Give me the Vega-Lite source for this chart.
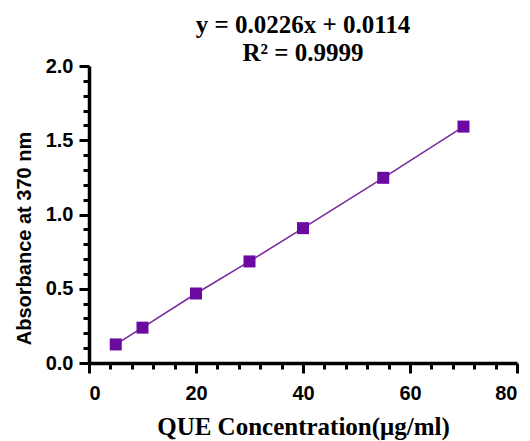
{
  "$schema": "https://vega.github.io/schema/vega-lite/v6.json",
  "width": 428,
  "height": 297,
  "autosize": "none",
  "padding": {"left": 89, "top": 66, "right": 13, "bottom": 78},
  "background": "white",
  "title": {
    "text": ["y = 0.0226x + 0.0114", "R² = 0.9999"],
    "font": "Liberation Serif",
    "fontSize": 25,
    "fontWeight": "bold",
    "color": "black",
    "anchor": "middle",
    "lineHeight": 28,
    "offset": -10
  },
  "config": {
    "view": {"stroke": null},
    "axis": {
      "grid": false,
      "domainColor": "black",
      "tickColor": "black",
      "labelColor": "black",
      "titleColor": "black",
      "domainWidth": 3.5,
      "tickWidth": 3,
      "labelFont": "Liberation Sans",
      "labelFontWeight": "bold",
      "labelFontSize": 20
    }
  },
  "data": {
    "values": [
      {"conc": 5, "abs": 0.125},
      {"conc": 10, "abs": 0.238},
      {"conc": 20, "abs": 0.468},
      {"conc": 30, "abs": 0.684},
      {"conc": 40, "abs": 0.908},
      {"conc": 55, "abs": 1.247},
      {"conc": 70, "abs": 1.592}
    ]
  },
  "layer": [
    {
      "mark": {"type": "line", "color": "#7a2a9e", "strokeWidth": 1.6},
      "encoding": {
        "x": {
          "field": "conc", "type": "quantitative",
          "scale": {"domain": [0, 80], "nice": false, "zero": true},
          "axis": {
            "values": [0, 20, 40, 60, 80],
            "tickSize": 10,
            "tickWidth": 3,
            "domainWidth": 3.5,
            "labelPadding": 10,
            "title": "QUE Concentration(μg/ml)",
            "titleFont": "Liberation Serif",
            "titleFontSize": 25,
            "titleFontWeight": "bold",
            "titlePadding": 11
          }
        },
        "y": {
          "field": "abs", "type": "quantitative",
          "scale": {"domain": [0, 2], "nice": false},
          "axis": {
            "values": [0, 0.5, 1, 1.5, 2],
            "format": ".1f",
            "tickSize": 10,
            "tickWidth": 3,
            "domainWidth": 3.5,
            "labelPadding": 6,
            "title": "Absorbance at 370 nm",
            "titleFont": "Liberation Sans",
            "titleFontSize": 20,
            "titleFontWeight": "bold",
            "titlePadding": 11,
            "titleY": 172
          }
        }
      }
    },
    {
      "mark": {"type": "square", "color": "#6a0aa0", "opacity": 1, "size": 144, "filled": true},
      "encoding": {
        "x": {
          "field": "conc", "type": "quantitative",
          "axis": {
            "orient": "bottom",
            "values": [4, 8, 12, 16, 24, 28, 32, 36, 44, 48, 52, 56, 64, 68, 72, 76],
            "tickSize": 6,
            "tickWidth": 3,
            "labels": false,
            "domain": false,
            "title": null
          }
        },
        "y": {
          "field": "abs", "type": "quantitative",
          "axis": {
            "orient": "left",
            "values": [0.1, 0.2, 0.3, 0.4, 0.6, 0.7, 0.8, 0.9, 1.1, 1.2, 1.3, 1.4, 1.6, 1.7, 1.8, 1.9],
            "tickSize": 6,
            "tickWidth": 3,
            "labels": false,
            "domain": false,
            "title": null
          }
        }
      }
    }
  ],
  "resolve": {"axis": {"x": "independent", "y": "independent"}}
}
